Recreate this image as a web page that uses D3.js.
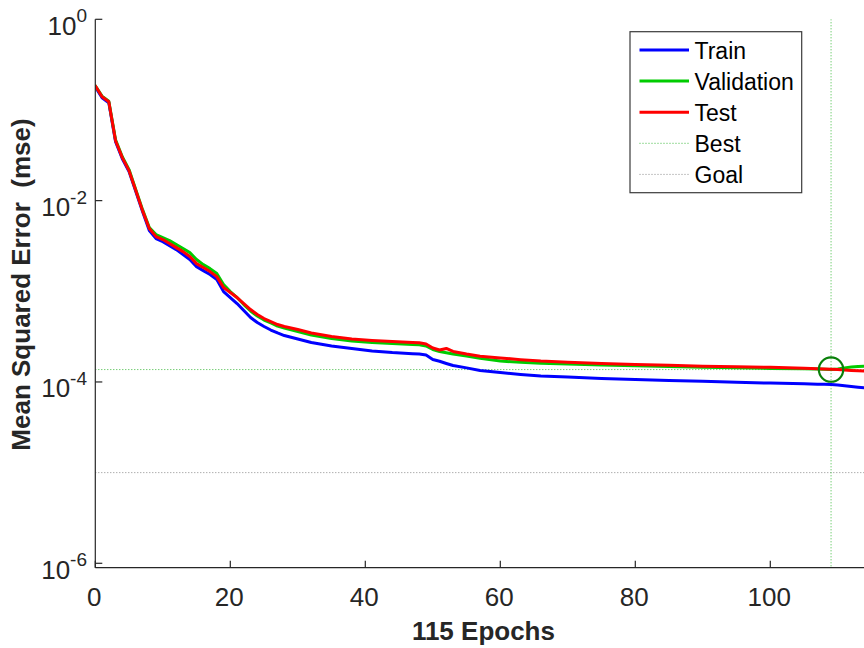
<!DOCTYPE html>
<html>
<head>
<meta charset="utf-8">
<script src="https://cdn.jsdelivr.net/npm/d3@7"></script>
<style>
  html, body { margin: 0; padding: 0; background: #fff; }
  svg { display: block; }
  text { font-family: "Liberation Sans", Arial, Helvetica, sans-serif; }
</style>
</head>
<body>
<svg id="chart" width="864" height="648"></svg>
<script>
// ---------------- data ----------------
const epochs = [0,1,2,3,4,5,6,7,8,9,10,11,12,13,14,15,16,17,18,19,20,21,22,23,24,25,26,27,28,
  30,32,35,38,41,44,47,48,49,50,51,52,53,55,57,60,63,66,70,75,80,85,90,95,100,105,107,108,109,110,111,112,113,114,115];

const trainPerf = [0.180,0.1365,0.120,0.0447,0.0290,0.0209,0.0126,0.00756,0.00467,0.00381,0.00353,0.00319,0.00288,0.00254,0.00224,0.00187,0.00169,0.00153,0.00135,9.94e-4,8.53e-4,7.33e-4,6.14e-4,5.14e-4,4.52e-4,4.09e-4,3.74e-4,3.47e-4,3.25e-4,
  2.98e-4,2.72e-4,2.49e-4,2.34e-4,2.20e-4,2.11e-4,2.05e-4,2.03e-4,1.98e-4,1.77e-4,1.69e-4,1.60e-4,1.52e-4,1.43e-4,1.34e-4,1.27e-4,1.21e-4,1.165e-4,1.135e-4,1.09e-4,1.065e-4,1.04e-4,1.02e-4,9.92e-5,9.72e-5,9.53e-5,9.46e-5,9.42e-5,9.39e-5,9.27e-5,9.10e-5,8.92e-5,8.76e-5,8.62e-5,8.48e-5];

const valPerf = [0.185,0.142,0.125,0.0470,0.0305,0.0220,0.0132,0.00796,0.00504,0.00422,0.00391,0.00362,0.00327,0.00296,0.00267,0.00224,0.00197,0.00178,0.00157,0.00119,9.94e-4,8.53e-4,7.14e-4,6.06e-4,5.34e-4,4.82e-4,4.47e-4,4.14e-4,3.94e-4,
  3.60e-4,3.30e-4,3.02e-4,2.83e-4,2.72e-4,2.66e-4,2.59e-4,2.57e-4,2.49e-4,2.28e-4,2.17e-4,2.10e-4,2.03e-4,1.93e-4,1.82e-4,1.70e-4,1.65e-4,1.61e-4,1.58e-4,1.54e-4,1.51e-4,1.48e-4,1.45e-4,1.43e-4,1.41e-4,1.40e-4,1.39e-4,1.38e-4,1.37e-4,1.39e-4,1.43e-4,1.46e-4,1.48e-4,1.49e-4,1.50e-4];

const testPerf = [0.185,0.140,0.123,0.0458,0.0298,0.0214,0.0129,0.00776,0.00492,0.00401,0.00372,0.00336,0.00303,0.00274,0.00242,0.00202,0.00183,0.00165,0.00145,0.00110,9.69e-4,8.53e-4,7.33e-4,6.29e-4,5.54e-4,5.01e-4,4.64e-4,4.30e-4,4.09e-4,
  3.79e-4,3.47e-4,3.17e-4,2.98e-4,2.87e-4,2.79e-4,2.72e-4,2.70e-4,2.62e-4,2.37e-4,2.25e-4,2.34e-4,2.17e-4,2.03e-4,1.92e-4,1.84e-4,1.76e-4,1.70e-4,1.65e-4,1.60e-4,1.56e-4,1.53e-4,1.49e-4,1.47e-4,1.45e-4,1.42e-4,1.40e-4,1.39e-4,1.38e-4,1.37e-4,1.355e-4,1.34e-4,1.33e-4,1.32e-4,1.31e-4];

const bestEpoch = 109;
const bestPerf = 1.37e-4;
const goalPerf = 1e-5;
const totalEpochs = 115;

const xTicks = [0, 20, 40, 60, 80, 100];
const yTickExps = [0, -2, -4, -6];

const seriesNames = ["Train", "Validation", "Test"];
const legendNames = ["Train", "Validation", "Test", "Best", "Goal"];

// ---------------- layout ----------------
const svg = d3.select("#chart");
const axisColor = "#262626";
const pLeft = 95.3, pTop = 19.3, pBottom = 567.7;
const pRight = pLeft + totalEpochs * 6.75;

const x = d3.scaleLinear().domain([0, totalEpochs]).range([pLeft, pRight]);
const y = d3.scaleLog().domain([8.94e-7, 1]).range([pBottom, pTop]);

svg.append("defs").append("clipPath").attr("id", "plotclip")
  .append("rect").attr("x", pLeft).attr("y", pTop).attr("width", pRight - pLeft).attr("height", pBottom - pTop);

const plot = svg.append("g").attr("clip-path", "url(#plotclip)");

// goal line
plot.append("line")
  .attr("x1", x(0)).attr("x2", x(totalEpochs))
  .attr("y1", y(goalPerf)).attr("y2", y(goalPerf))
  .attr("stroke", "#8c8c8c").attr("stroke-width", 1).attr("stroke-dasharray", "1,2");

// best lines
plot.append("line")
  .attr("x1", x(0)).attr("x2", x(totalEpochs))
  .attr("y1", y(bestPerf)).attr("y2", y(bestPerf))
  .attr("stroke", "#3cb83c").attr("stroke-width", 1).attr("stroke-dasharray", "1,2");
plot.append("line")
  .attr("x1", x(bestEpoch)).attr("x2", x(bestEpoch))
  .attr("y1", pTop).attr("y2", pBottom)
  .attr("stroke", "#3cb83c").attr("stroke-width", 1).attr("stroke-dasharray", "1,2");

const colors = { Train: "#0000ff", Validation: "#00cc00", Test: "#ff0000" };
const perfData = { Train: trainPerf, Validation: valPerf, Test: testPerf };

const line = d3.line()
  .x((d, i) => x(epochs[i]))
  .y(d => y(d));

seriesNames.forEach(name => {
  plot.append("path")
    .datum(perfData[name])
    .attr("d", line)
    .attr("fill", "none")
    .attr("stroke", colors[name])
    .attr("stroke-width", 3)
    .attr("stroke-linejoin", "round")
    .attr("stroke-linecap", "round");
});

// best circle
plot.append("circle")
  .attr("cx", x(bestEpoch)).attr("cy", y(bestPerf)).attr("r", 12.2)
  .attr("fill", "none").attr("stroke", "#0a800a").attr("stroke-width", 2.2);

// ---------------- axes ----------------
const axes = svg.append("g");
axes.append("line").attr("x1", pLeft).attr("x2", pLeft).attr("y1", pTop).attr("y2", pBottom)
  .attr("stroke", axisColor).attr("stroke-width", 1.2);
axes.append("line").attr("x1", pLeft).attr("x2", pRight).attr("y1", pBottom).attr("y2", pBottom)
  .attr("stroke", axisColor).attr("stroke-width", 1.2);

xTicks.forEach(t => {
  axes.append("line").attr("x1", x(t)).attr("x2", x(t)).attr("y1", pBottom).attr("y2", pBottom - 7)
    .attr("stroke", axisColor).attr("stroke-width", 1.2);
  axes.append("text").attr("x", x(t) - 1).attr("y", 606)
    .attr("text-anchor", "middle").attr("font-size", 26).attr("fill", axisColor)
    .text(t);
});

yTickExps.forEach(e => {
  const yy = y(Math.pow(10, e));
  axes.append("line").attr("x1", pLeft).attr("x2", pLeft + 7).attr("y1", yy).attr("y2", yy)
    .attr("stroke", axisColor).attr("stroke-width", 1.2);
  const t = axes.append("text").attr("x", 87).attr("y", yy + 15.5)
    .attr("text-anchor", "end").attr("font-size", 26).attr("fill", axisColor);
  t.append("tspan").text("10");
  t.append("tspan").attr("font-size", 19).attr("dy", -12.5).text(e === 0 ? "0" : "-" + Math.abs(e));
});

// axis labels
svg.append("text")
  .attr("x", (pLeft + pRight) / 2).attr("y", 640)
  .attr("text-anchor", "middle").attr("font-size", 26).attr("font-weight", "bold").attr("fill", axisColor)
  .text(totalEpochs + " Epochs");

svg.append("text")
  .attr("transform", "translate(30,284.5) rotate(-90)")
  .attr("text-anchor", "middle").attr("font-size", 26).attr("font-weight", "bold").attr("fill", axisColor)
  .style("white-space", "pre")
  .text("Mean Squared Error  (mse)");

// ---------------- legend ----------------
const lg = svg.append("g");
lg.append("rect").attr("x", 630).attr("y", 31.7).attr("width", 171.7).attr("height", 161)
  .attr("fill", "#fff").attr("stroke", "#3a3a3a").attr("stroke-width", 1.2);

const legendStyles = {
  Train: { c: colors.Train, w: 3, dash: null },
  Validation: { c: colors.Validation, w: 3, dash: null },
  Test: { c: colors.Test, w: 3, dash: null },
  Best: { c: "#3cb83c", w: 1, dash: "1,2" },
  Goal: { c: "#8c8c8c", w: 1, dash: "1,2" }
};

legendNames.forEach((name, i) => {
  const ly = 50 + i * 31.1;
  const st = legendStyles[name];
  const l = lg.append("line").attr("x1", 639.5).attr("x2", 689).attr("y1", ly).attr("y2", ly)
    .attr("stroke", st.c).attr("stroke-width", st.w);
  if (st.dash) l.attr("stroke-dasharray", st.dash);
  lg.append("text").attr("x", 694.5).attr("y", ly + 8.5)
    .attr("font-size", 23).attr("fill", "#000").text(name);
});
</script>
</body>
</html>
